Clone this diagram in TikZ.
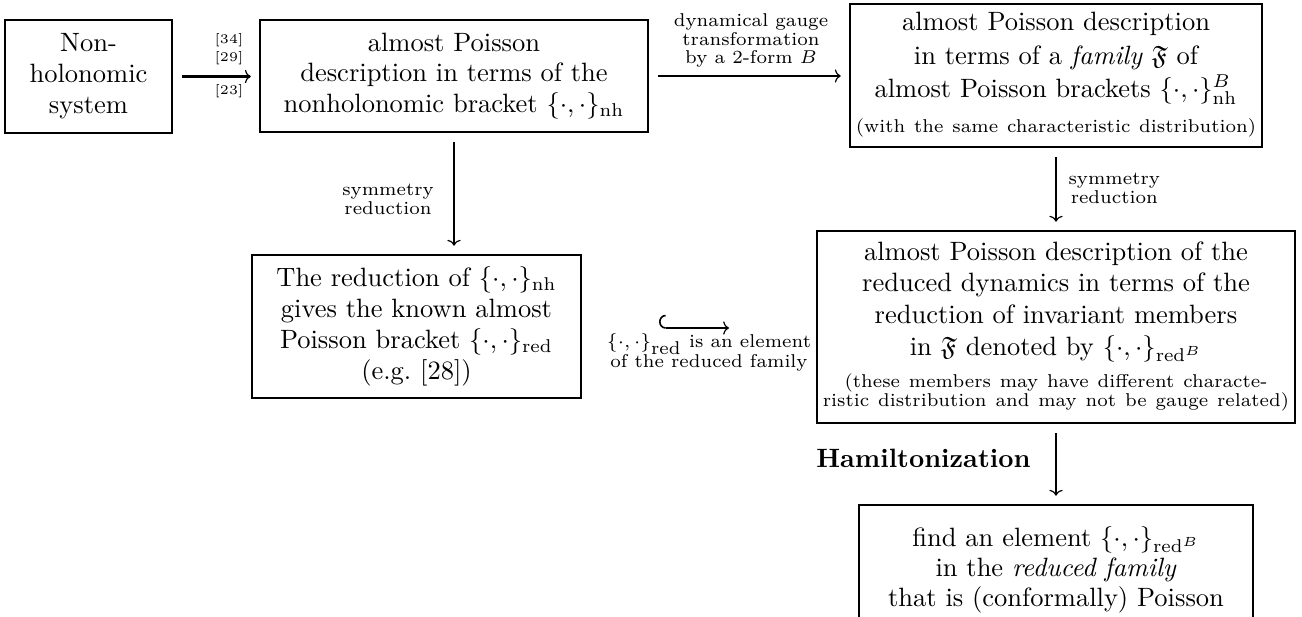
\documentclass[tikz,border=0pt]{standalone}
\usepackage{amsmath,amssymb,graphicx}
\usetikzlibrary{arrows.meta}
\newcommand{\smalltxt}[2][6.8]{{\fontsize{7}{#1}\selectfont\begin{tabular}[t]{@{}c@{}}#2\end{tabular}}}
\begin{document}
\begin{tikzpicture}[x=0.3774pt,y=-0.3774pt,
  box/.style={draw,line width=1pt,inner sep=0pt,align=center},
  cmtip/.tip={Computer Modern Rightarrow[line width=0.45pt,width=5pt,length=2.2pt]},
  thickarr/.style={line width=1.05pt,-cmtip,shorten <=3.4pt,shorten >=3pt},
  thinarr/.style={line width=0.45pt,-cmtip,shorten <=3.4pt,shorten >=3pt},
  lbl/.style={inner sep=0pt},
  citelbl/.style={inner sep=0pt,font=\fontsize{5}{6}\selectfont}]
\fill[white] (0,0) rectangle (1302,617);
\useasboundingbox (0,0) rectangle (1302,617);

\node[box,text width=63pt,minimum height=42.6pt,font=\fontsize{10}{11.7}\selectfont] (B1) at (88.5,76.5)
  {Non-\\holonomic\\system};
\node[box,text width=146.4pt,minimum height=42.3pt,font=\fontsize{10}{11.4}\selectfont] (B2) at (454,76)
  {almost Poisson\\description in terms of the\\nonholonomic bracket $\{\cdot,\cdot\}_{\mathrm{nh}}$};
\node[box,text width=155.5pt,minimum height=54pt,font=\fontsize{10}{12.5}\selectfont] (B3) at (1056,75.5)
  {almost Poisson description\\in terms of a \emph{family} $\mathfrak{F}$ of\\almost Poisson brackets $\{\cdot,\cdot\}^B_{\mathrm{nh}}$\par
   \vspace{1pt}\smalltxt{(with the same characteristic distribution)}\par};
\node[box,text width=124.2pt,minimum height=54pt,font=\fontsize{10}{11.7}\selectfont] (B4) at (416.5,326.5)
  {The reduction of $\{\cdot,\cdot\}_{\mathrm{nh}}$\\gives the known almost\\Poisson bracket $\{\cdot,\cdot\}_{\mathrm{red}}$\\(e.g.~[28])};
\node[box,text width=180.4pt,minimum height=72.5pt,font=\fontsize{10}{12}\selectfont] (B5) at (1056,327)
  {almost Poisson description of the\\reduced dynamics in terms of the\\reduction of invariant members\\in $\mathfrak{F}$ denoted by $\{\cdot,\cdot\}_{\mathrm{red}^B}$\par
   \smalltxt[7.2]{(these members may have different characte-\\ristic distribution and may not be gauge related)}\par};
\node[box,text width=148.7pt,minimum height=49.1pt,font=\fontsize{10}{11.3}\selectfont] (B6) at (1056,570)
  {find an element $\{\cdot,\cdot\}_{\mathrm{red}^B}$\\in the \emph{reduced family}\\that is (conformally) Poisson};

% connectors
\draw[thickarr] (B1.east) -- (B1.east -| B2.west);
\draw[thickarr] (B2.east) -- (B2.east -| B3.west);
\draw[thickarr] (B2.south) -- (B2.south |- B4.north);
\draw[thinarr] (B3.south) -- (B5.north);
\draw[thinarr] (B5.south) -- (B6.north);
\coordinate (hs) at (659,328);
\coordinate (he) at (729,328);
\draw[line width=0.6pt,{Hooks[right,length=2.5pt,width=10pt]}-cmtip] (hs) -- (he);

% labels
\node[citelbl] (c34) at (229,40) {[34]};
\node[citelbl] (c29) at (229,58) {[29]};
\node[citelbl] (c23) at (229,91) {[23]};
\node[lbl] (gauge) at (751,41.4) {\smalltxt{dynamical gauge\\transformation\\by a 2-form $B$}};
\node[lbl] (sym1) at (388,201.4) {\smalltxt{symmetry\\reduction}};
\node[lbl,anchor=west] (sym2) at (1068,190.4) {\smalltxt{symmetry\\reduction}};
\node[lbl] (hooklbl) at (709,353) {\smalltxt[6.3]{$\{\cdot,\cdot\}_{\mbox{red}}$ is an element\\of the reduced family}};
\node[inner sep=0pt,anchor=base east,font=\fontsize{10}{12}\selectfont\bfseries] (ham) at (1031,467) {Hamiltonization};
\end{tikzpicture}
\end{document}
